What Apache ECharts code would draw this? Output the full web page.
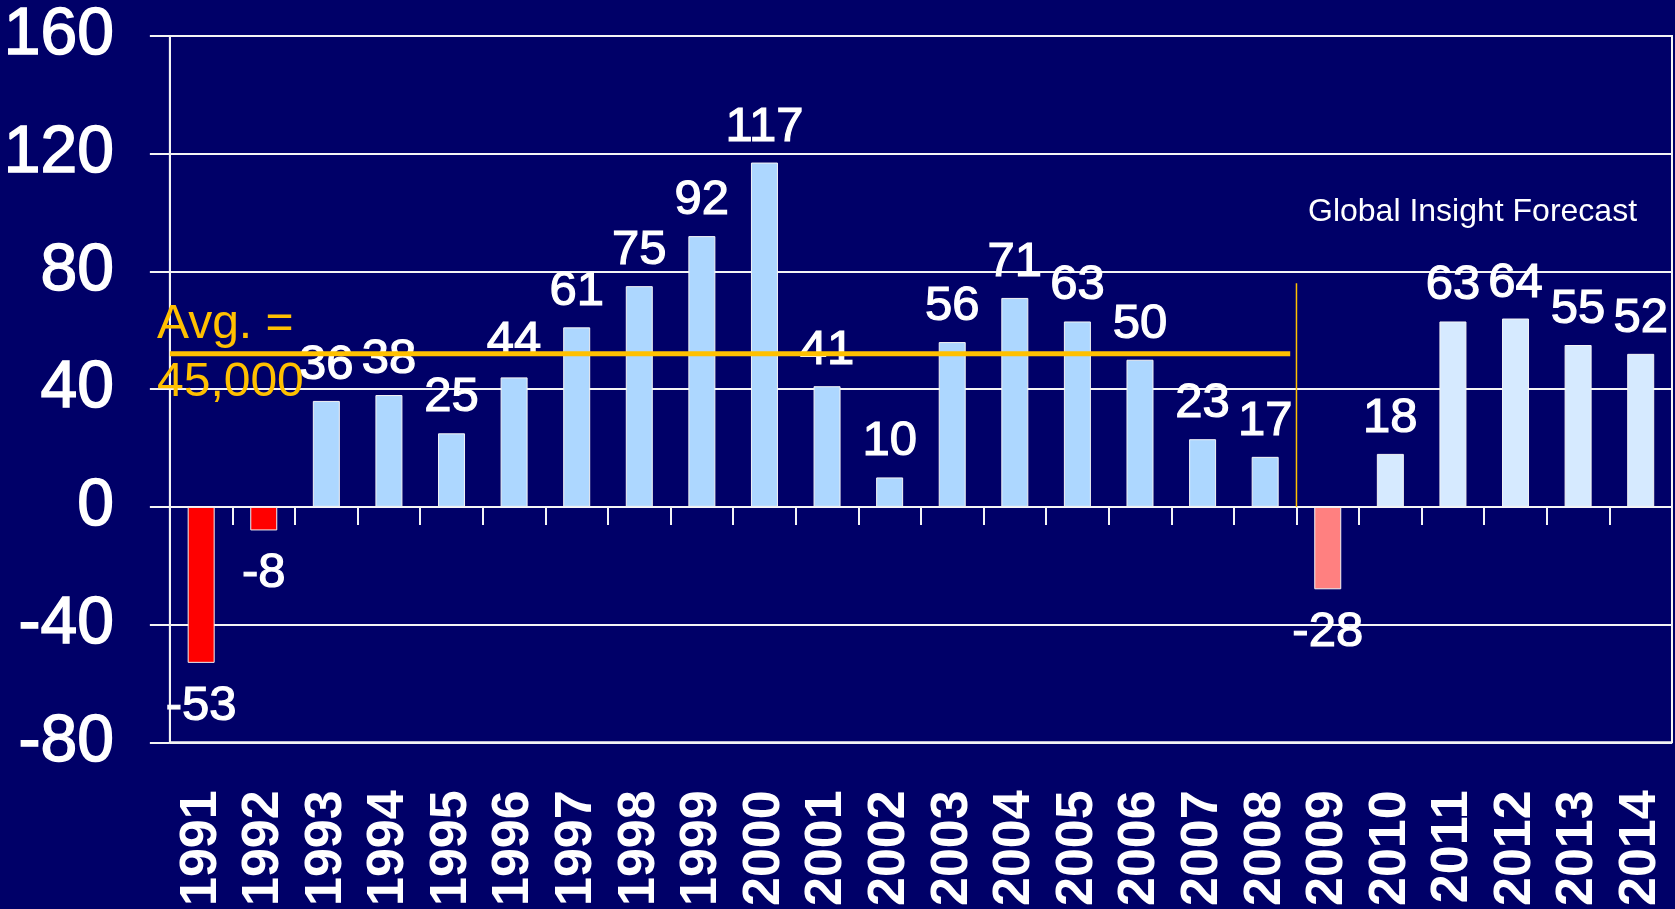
<!DOCTYPE html>
<html><head><meta charset="utf-8">
<script src="https://cdn.jsdelivr.net/npm/echarts@6/dist/echarts.min.js"></script>
<style>html,body{margin:0;padding:0;background:#000068;overflow:hidden;} #c{width:1675px;height:909px;}</style>
</head><body><div id="c"></div>
<script>
// ---- data ----
const years = ['1991','1992','1993','1994','1995','1996','1997','1998','1999','2000','2001','2002','2003','2004','2005','2006','2007','2008','2009','2010','2011','2012','2013','2014'];
const values = [-53,-8,36,38,25,44,61,75,92,117,41,10,56,71,63,50,23,17,-28,18,63,64,55,52];
const forecastStartYear = '2009';
const yMin = -80;
const yMax = 160;
const yInterval = 40;
const avgLevel = 52;          // level where the average line is drawn
const avgLineEndPos = 17.4;   // end of the average line, in category-index units
const dividerPos = 17.5;      // boundary between 2008 and 2009
const dividerTop = 76;        // top of the forecast divider line
const avgLabel = ['Avg. =', '45,000'];
const forecastLabel = 'Global Insight Forecast';

// ---- styles ----
const FONT = '"Liberation Sans", Arial, sans-serif';
const BG = '#000068';
const C_HIST = '#ADD7FF', C_FC = '#D6EAFF', C_NEG = '#FF0000', C_NEG_FC = '#FF8080';
const ORANGE = '#FFC000';

const fcIdx = years.indexOf(forecastStartYear);
const barData = values.map((v, i) => {
  const fc = i >= fcIdx;
  const neg = v < 0;
  return {
    value: v,
    itemStyle: { color: neg ? (fc ? C_NEG_FC : C_NEG) : (fc ? C_FC : C_HIST) },
    label: { position: neg ? 'bottom' : 'top', distance: neg ? 19 : 11 }
  };
});

const chart = echarts.init(document.getElementById('c'), null, { renderer: 'canvas' });
chart.setOption({
  backgroundColor: BG,
  animation: false,
  grid: { left: 168, right: 3, top: 36, bottom: 166, show: true, borderColor: '#F4F4F4', borderWidth: 2, backgroundColor: 'transparent' },
  xAxis: [
    { type: 'category', data: years, position: 'bottom',
      axisLine: { show: true, onZero: true, lineStyle: { color: '#F4F4F4', width: 2 } },
      axisTick: { show: true, length: 18, interval: 0, lineStyle: { color: '#F4F4F4', width: 2 } },
      axisLabel: { show: false }, splitLine: { show: false } },
    { type: 'category', data: years, position: 'bottom',
      axisLine: { show: false, onZero: false }, axisTick: { show: false },
      axisLabel: { show: true, interval: 0, rotate: 90, margin: 48, color: '#FFFFFF', fontFamily: FONT, fontWeight: 'bold', fontSize: 52 },
      splitLine: { show: false } },
    { type: 'value', position: 'top', min: -0.5, max: years.length - 0.5, show: false,
      axisLine: { onZero: false } }
  ],
  yAxis: [{
    type: 'value', min: yMin, max: yMax, interval: yInterval,
    axisLine: { show: true, onZero: false, lineStyle: { color: '#F4F4F4', width: 2 } },
    axisTick: { show: true, length: 20, lineStyle: { color: '#F4F4F4', width: 2 } },
    axisLabel: { color: '#FFFFFF', fontFamily: FONT, fontSize: 66, margin: 56, textBorderColor: '#FFFFFF', textBorderWidth: 1.5 },
    splitLine: { show: true, lineStyle: { color: '#F4F4F4', width: 2 } }
  }],
  series: [
    { type: 'bar', xAxisIndex: 0, yAxisIndex: 0, data: barData, barWidth: 27,
      itemStyle: { borderColor: '#F4F4F4', borderWidth: 1 },
      label: { show: true, color: '#FFFFFF', fontFamily: FONT, fontSize: 49, textBorderColor: '#FFFFFF', textBorderWidth: 1.2, formatter: p => String(p.value) } },
    { type: 'line', xAxisIndex: 2, yAxisIndex: 0, symbol: 'none', silent: true,
      data: [[-0.5, avgLevel], [avgLineEndPos, avgLevel]],
      lineStyle: { color: ORANGE, width: 5 } },
    { type: 'line', xAxisIndex: 2, yAxisIndex: 0, symbol: 'none', silent: true,
      data: [[dividerPos, 0], [dividerPos, dividerTop]],
      lineStyle: { color: ORANGE, width: 1.5 } }
  ],
  graphic: [
    { type: 'text', left: 157, top: 296, z: 100,
      style: { text: avgLabel.join('\n'), fill: ORANGE, font: '48px ' + FONT, lineHeight: 58 } },
    { type: 'text', left: 1308, top: 196, z: 100,
      style: { text: forecastLabel, fill: '#FFFFFF', font: '32px ' + FONT } }
  ]
});
</script>
</body></html>
